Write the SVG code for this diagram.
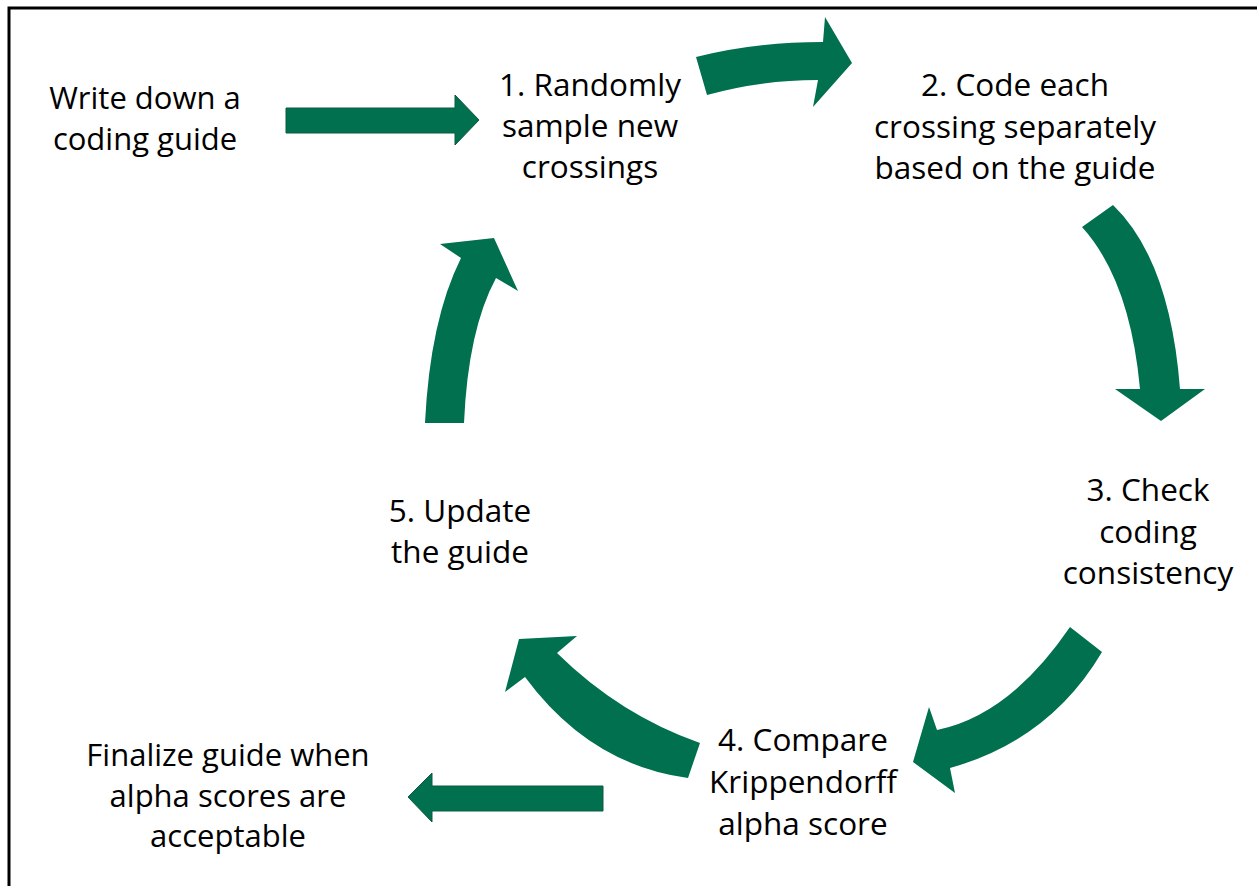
<svg xmlns="http://www.w3.org/2000/svg" width="1257" height="886" viewBox="0 0 1257 886">
<style>
.t{font-family:"Open Sans","Liberation Sans",sans-serif;font-size:31.5px;fill:#000;text-anchor:middle}
.u{font-family:"Open Sans","Liberation Sans",sans-serif;font-size:31px;fill:#000;text-anchor:middle}
.a{fill:#00704F}
.s{fill:#00704F;stroke:#0b5a41;stroke-width:1}
</style>
<rect x="0" y="0" width="1257" height="886" fill="#fff"/>
<path d="M9,886 V8 H1257" fill="none" stroke="#000" stroke-width="3"/>
<g id="n0"><text class="u" x="145" y="109">Write down a</text><text class="u" x="145" y="149.5">coding guide</text></g>
<g id="n1"><text class="t" x="590" y="96">1. Randomly</text><text class="t" x="590" y="137">sample new</text><text class="t" x="590" y="178">crossings</text></g>
<g id="n2"><text class="t" x="1015" y="96">2. Code each</text><text class="t" x="1015" y="138">crossing separately</text><text class="t" x="1015" y="179">based on the guide</text></g>
<g id="n3"><text class="t" x="1148" y="501">3. Check</text><text class="t" x="1148" y="543">coding</text><text class="t" x="1148" y="584">consistency</text></g>
<g id="n4"><text class="t" x="803" y="751">4. Compare</text><text class="t" x="803" y="793">Krippendorff</text><text class="t" x="803" y="835">alpha score</text></g>
<g id="n5"><text class="t" x="460" y="522">5. Update</text><text class="t" x="460" y="563">the guide</text></g>
<g id="n6"><text class="u" x="228" y="766">Finalize guide when</text><text class="u" x="228" y="806.5">alpha scores are</text><text class="u" x="228" y="847">acceptable</text></g>
<g id="connectors">
<path class="s" d="M286,108 H455 V95 L479,120 L455,145 V133 H286 Z"/>
<path class="a" d="M696,57 Q755,42 823,42 L825,17 L852,63 L813,107 L818,80 Q760,80 707,95 Z"/>
<path class="a" d="M1082,227 Q1130,280 1140,389 L1115,389 L1161,421 L1205,389 L1180,389 Q1170,260 1113,205 Z"/>
<path class="a" d="M1070,627 Q1010,715 937,730 L929,707 L913,762 L955,793 L950,768 Q1050,740 1102,652 Z"/>
<path class="a" d="M700,743 Q620,715 557,653 L577,636 L519,639 L505,692 L525,677 Q590,765 688,778 Z"/>
<path class="a" d="M425,423 Q430,320 461,258 L440,244 L494,238 L518,291 L496,278 Q468,330 464,423 Z"/>
<path class="s" d="M603,786 H432 V773 L408,797 L432,822 V811 H603 Z"/>
</g>
</svg>
